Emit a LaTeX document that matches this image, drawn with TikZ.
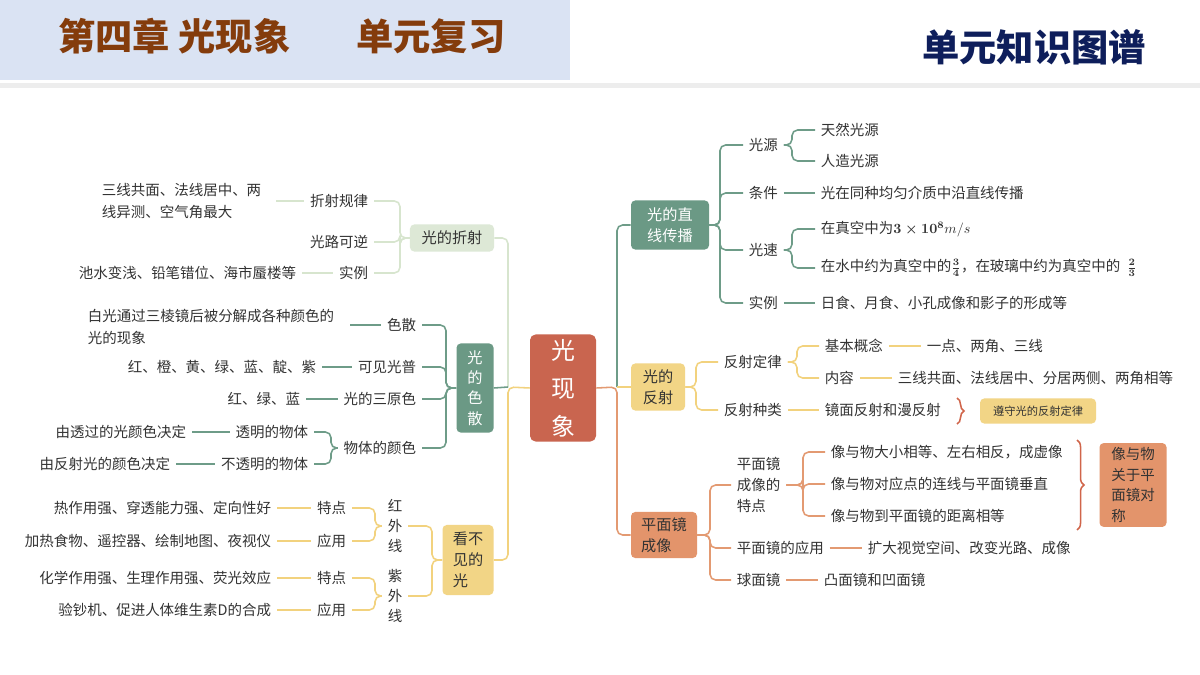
\documentclass[tikz,border=0pt]{standalone}
\usepackage{fontspec}
\setmainfont{Noto Sans CJK SC}
\usetikzlibrary{decorations.pathreplacing}
\definecolor{gl}{HTML}{6E9C88}
\definecolor{gbox}{HTML}{6B9985}
\definecolor{yl}{HTML}{F2D27E}
\definecolor{ybox}{HTML}{F2D586}
\definecolor{ol}{HTML}{E39A72}
\definecolor{obox}{HTML}{E3946B}
\definecolor{lgl}{HTML}{D7E5CE}
\definecolor{lgbox}{HTML}{DDE8D6}
\definecolor{cbox}{HTML}{C9654F}
\definecolor{txt}{HTML}{333333}
\definecolor{hdr}{HTML}{DAE3F3}
\definecolor{brn}{HTML}{843C0C}
\definecolor{navy}{HTML}{0E1E5B}
\definecolor{brcol}{HTML}{D0654A}
\tikzset{
 tx/.style={font=\fontsize{10.3pt}{15pt}\selectfont, text=txt, inner xsep=4pt, inner ysep=1pt},
 ln/.style={line width=1.1pt, rounded corners=4pt},
 gline/.style={ln, draw=gl}, yline/.style={ln, draw=yl}, oline/.style={ln, draw=ol}, lgline/.style={ln, draw=lgl},
 box/.style={rounded corners=3pt, font=\fontsize{10.8pt}{15pt}\selectfont, align=left, inner sep=2pt},
 vt/.style={tx, align=center, font=\fontsize{10.3pt}{14.5pt}\selectfont},
 bracestyle/.style={draw=brcol, line width=1.1pt, decorate, decoration={brace, amplitude=5pt}},
}
\begin{document}
\begin{tikzpicture}[x=0.025cm, y=-0.025cm]
\useasboundingbox (0,0) rectangle (1200,675);
\fill[white] (0,0) rectangle (1200,675);
\fill[hdr] (0,0) rectangle (570,80);
\fill[black!7] (0,83) rectangle (1200,88);
\node[anchor=west, font=\bfseries\fontsize{26.5pt}{30pt}\selectfont, text=brn, inner sep=0] (t1) at (58,36) {第四章 光现象};
\node[anchor=west, font=\bfseries\fontsize{26.5pt}{30pt}\selectfont, text=brn, inner sep=0] (t2) at (356,36) {单元复习};
\node[anchor=west, font=\bfseries\fontsize{26.5pt}{30pt}\selectfont, text=navy, inner sep=0] (t3) at (922,47) {单元知识图谱};

% center
\node[fill=cbox, text=white, rounded corners=4pt, minimum width=1.65cm, minimum height=2.6cm, align=center, font=\fontsize{17pt}{27pt}\selectfont] (c) at (563,388) {光\\现\\象};

% main boxes
\node[box, fill=gbox, text=white, minimum width=1.95cm, minimum height=1.225cm] (R1) at (670,225) {光的直\\线传播};
\node[box, fill=ybox, text=txt, minimum width=1.35cm, minimum height=1.175cm] (R2) at (658,387) {光的\\反射};
\node[box, fill=obox, text=txt, minimum width=1.65cm, minimum height=1.15cm] (R3) at (664,535) {平面镜\\成像};
\node[box, fill=lgbox, text=txt, minimum width=2.1cm, minimum height=0.675cm] (L1) at (452,238) {光的折射};
\node[box, fill=gbox, text=white, minimum width=0.925cm, minimum height=2.225cm, align=center, font=\fontsize{10.8pt}{14.5pt}\selectfont] (L2) at (475,388) {光\\的\\色\\散};
\node[box, fill=ybox, text=txt, minimum width=1.275cm, minimum height=1.75cm] (L3) at (468,560) {看不\\见的\\光};

\coordinate (j0) at (617,387);
\coordinate (j1) at (508,387);
\draw[gline] (j0) |- (R1.west);
\draw[oline] (c.east) -- (j0) |- (R3.west);
\draw[yline] (j0) -- (R2.west);
\draw[lgline] (j1) |- (L1.east);
\draw[yline] (c.west) -- (j1) |- (L3.east);
\draw[gline] (L2.east) -- (j1);

% R1
\coordinate (tA) at (720,0); \coordinate (tB) at (792,0);
\node[tx, anchor=west] (a1) at (743,145) {光源};
\node[tx, anchor=west] (a2) at (743,193) {条件};
\node[tx, anchor=west] (a3) at (743,250) {光速};
\node[tx, anchor=west] (a4) at (743,303) {实例};
\foreach \n in {a1,a2,a3,a4} \draw[gline] (R1.east) -- (R1.east -| tA) |- (\n.west);
\node[tx, anchor=west] (b1) at (815,130) {天然光源};
\node[tx, anchor=west] (b2) at (815,161) {人造光源};
\node[tx, anchor=west] (b3) at (815,193) {光在同种均匀介质中沿直线传播};
\node[tx, anchor=west] (b4) at (815,229) {在真空中为{\boldmath$3\times10^8$}$m/s$};
\node[tx, anchor=west] (b5) at (815,268) {在水中约为真空中的{\boldmath$\frac{3}{4}$}，在玻璃中约为真空中的\ \ {\boldmath$\frac{2}{3}$}};
\node[tx, anchor=west] (b6) at (815,303) {日食、月食、小孔成像和影子的形成等};
\foreach \n in {b1,b2} \draw[gline] (a1.east) -- (a1.east -| tB) |- (\n.west);
\draw[gline] (a2.east) -- (b3.west);
\foreach \n in {b4,b5} \draw[gline] (a3.east) -- (a3.east -| tB) |- (\n.west);
\draw[gline] (a4.east) -- (b6.west);

% R2
\coordinate (tC) at (696,0); \coordinate (tD) at (797,0);
\node[tx, anchor=west] (c1) at (718,362) {反射定律};
\node[tx, anchor=west] (c2) at (718,410) {反射种类};
\foreach \n in {c1,c2} \draw[yline] (R2.east) -- (R2.east -| tC) |- (\n.west);
\node[tx, anchor=west] (d1) at (819,346) {基本概念};
\node[tx, anchor=west] (d2) at (819,378) {内容};
\node[tx, anchor=west] (d3) at (819,410) {镜面反射和漫反射};
\foreach \n in {d1,d2} \draw[yline] (c1.east) -- (c1.east -| tD) |- (\n.west);
\draw[yline] (c2.east) -- (d3.west);
\node[tx, anchor=west] (e1) at (921,346) {一点、两角、三线};
\node[tx, anchor=west] (e2) at (892,378) {三线共面、法线居中、分居两侧、两角相等};
\draw[yline] (d1.east) -- (e1.west);
\draw[yline] (d2.east) -- (e2.west);
\draw[bracestyle] (957,398) -- (957,424);
\node[fill=ybox, rounded corners=3pt, minimum width=2.9cm, minimum height=0.625cm, text=txt, font=\fontsize{8pt}{10pt}\selectfont] (f1) at (1038,411) {遵守光的反射定律};

% R3
\coordinate (tE) at (710,0); \coordinate (tF) at (803,0);
\node[tx, anchor=west, align=left] (g1) at (731,485) {平面镜\\成像的\\特点};
\node[tx, anchor=west] (g2) at (731,548) {平面镜的应用};
\node[tx, anchor=west] (g3) at (731,580) {球面镜};
\foreach \n in {g1,g2,g3} \draw[oline] (R3.east) -- (R3.east -| tE) |- (\n.west);
\node[tx, anchor=west] (h1) at (825,452) {像与物大小相等、左右相反，成虚像};
\node[tx, anchor=west] (h2) at (825,484) {像与物对应点的连线与平面镜垂直};
\node[tx, anchor=west] (h3) at (825,516) {像与物到平面镜的距离相等};
\foreach \n in {h1,h2,h3} \draw[oline] (g1.east) -- (g1.east -| tF) |- (\n.west);
\node[tx, anchor=west] (h4) at (862,548) {扩大视觉空间、改变光路、成像};
\node[tx, anchor=west] (h5) at (818,580) {凸面镜和凹面镜};
\draw[oline] (g2.east) -- (h4.west);
\draw[oline] (g3.east) -- (h5.west);
\draw[bracestyle] (1077,440) -- (1077,530);
\node[fill=obox, rounded corners=3pt, minimum width=1.675cm, minimum height=2.0cm, text=txt, align=left, font=\fontsize{10.3pt}{14.5pt}\selectfont, inner xsep=4pt] (i1) at (1133,485) {像与物\\关于平\\面镜对\\称};

% L1
\coordinate (tG) at (400,0);
\node[tx, anchor=east] (j1n) at (374,201) {折射规律};
\node[tx, anchor=east] (j2n) at (374,242) {光路可逆};
\node[tx, anchor=east] (j3n) at (374,273) {实例};
\foreach \n in {j1n,j2n,j3n} \draw[lgline] (L1.west) -- (L1.west -| tG) |- (\n.east);
\node[tx, anchor=west, align=left] (k1) at (96,201) {三线共面、法线居中、两\\线异测、空气角最大};
\node[tx, anchor=east] (k3) at (302,273) {池水变浅、铅笔错位、海市蜃楼等};
\coordinate (k1e) at (276,201);
\draw[lgline] (k1e) -- (j1n.west);
\draw[lgline] (k3.east) -- (j3n.west);

% L2
\coordinate (tH) at (446,0); \coordinate (tI) at (331,0);
\node[tx, anchor=east] (m1) at (422,325) {色散};
\node[tx, anchor=east] (m2) at (422,367) {可见光普};
\node[tx, anchor=east] (m3) at (422,399) {光的三原色};
\node[tx, anchor=east] (m4) at (422,448) {物体的颜色};
\foreach \n in {m1,m2,m3,m4} \draw[gline] (L2.west) -- (L2.west -| tH) |- (\n.east);
\node[tx, anchor=west, align=left] (n1) at (82,327) {白光通过三棱镜后被分解成各种颜色的\\光的现象};
\node[tx, anchor=east] (n2) at (322,367) {红、橙、黄、绿、蓝、靛、紫};
\node[tx, anchor=east] (n3) at (306,399) {红、绿、蓝};
\coordinate (n1e) at (350,325);
\draw[gline] (n1e) -- (m1.west);
\draw[gline] (n2.east) -- (m2.west);
\draw[gline] (n3.east) -- (m3.west);
\node[tx, anchor=east] (o1) at (314,432) {透明的物体};
\node[tx, anchor=east] (o2) at (314,464) {不透明的物体};
\foreach \n in {o1,o2} \draw[gline] (m4.west) -- (m4.west -| tI) |- (\n.east);
\node[tx, anchor=east] (p1) at (192,432) {由透过的光颜色决定};
\node[tx, anchor=east] (p2) at (176,464) {由反射光的颜色决定};
\draw[gline] (p1.east) -- (o1.west);
\draw[gline] (p2.east) -- (o2.west);

% L3
\coordinate (tJ) at (432,0); \coordinate (tK) at (375,0);
\node[vt] (q1) at (395,526) {红\\外\\线};
\node[vt] (q2) at (395,596) {紫\\外\\线};
\foreach \n in {q1,q2} \draw[yline] (L3.west) -- (L3.west -| tJ) |- (\n.east);
\node[tx, anchor=east] (r1) at (352,508) {特点};
\node[tx, anchor=east] (r2) at (352,541) {应用};
\node[tx, anchor=east] (r3) at (352,578) {特点};
\node[tx, anchor=east] (r4) at (352,610) {应用};
\foreach \n in {r1,r2} \draw[yline] (q1.west) -- (q1.west -| tK) |- (\n.east);
\foreach \n in {r3,r4} \draw[yline] (q2.west) -- (q2.west -| tK) |- (\n.east);
\node[tx, anchor=east] (s1) at (277,508) {热作用强、穿透能力强、定向性好};
\node[tx, anchor=east] (s2) at (277,541) {加热食物、遥控器、绘制地图、夜视仪};
\node[tx, anchor=east] (s3) at (277,578) {化学作用强、生理作用强、荧光效应};
\node[tx, anchor=east] (s4) at (277,610) {验钞机、促进人体维生素D的合成};
\draw[yline] (s1.east) -- (r1.west);
\draw[yline] (s2.east) -- (r2.west);
\draw[yline] (s3.east) -- (r3.west);
\draw[yline] (s4.east) -- (r4.west);
\end{tikzpicture}
\end{document}
